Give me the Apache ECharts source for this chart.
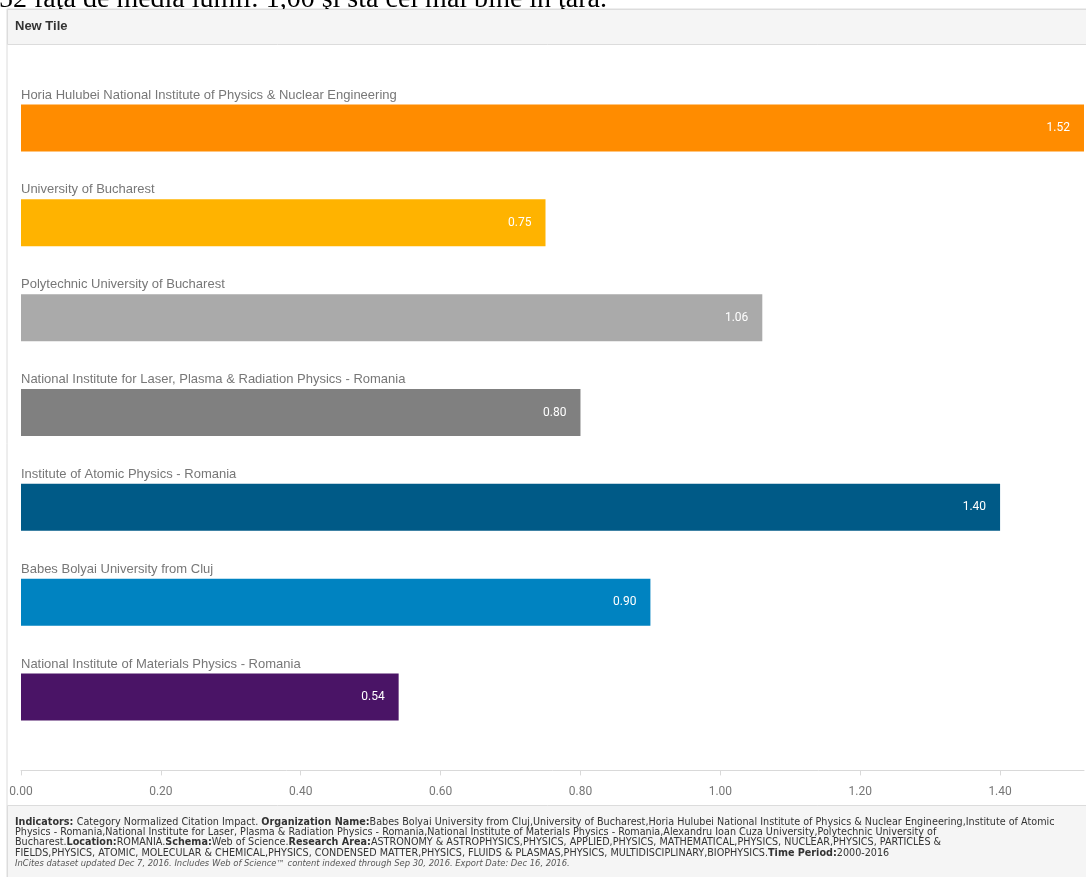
<!DOCTYPE html>
<html><head><meta charset="utf-8">
<script src="https://cdn.jsdelivr.net/npm/echarts@6/dist/echarts.min.js"></script>
<style>html,body{margin:0;padding:0;background:#fff;}#c{width:1086px;height:877px;}</style>
</head><body><div id="c"></div>
<script>
const categories = [
  "Horia Hulubei National Institute of Physics & Nuclear Engineering",
  "University of Bucharest",
  "Polytechnic University of Bucharest",
  "National Institute for Laser, Plasma & Radiation Physics - Romania",
  "Institute of Atomic Physics - Romania",
  "Babes Bolyai University from Cluj",
  "National Institute of Materials Physics - Romania"
];
const values = [1.52, 0.75, 1.06, 0.80, 1.40, 0.90, 0.54];
const barColors = ["#FF8C00", "#FFB300", "#AAAAAA", "#808080", "#005A87", "#0083C1", "#4A1466"];
const axisMin = 0, axisMax = 1.52, axisInterval = 0.2;
const headline = "52 faţă de media lumii: 1,00 şi sta cel mai bine în ţară.";
const tileTitle = "New Tile";
const footerLines = [
  [["b","Indicators: "],["n","Category Normalized Citation Impact. "],["b","Organization Name:"],["n","Babes Bolyai University from Cluj,University of Bucharest,Horia Hulubei National Institute of Physics & Nuclear Engineering,Institute of Atomic"]],
  [["n","Physics - Romania,National Institute for Laser, Plasma & Radiation Physics - Romania,National Institute of Materials Physics - Romania,Alexandru Ioan Cuza University,Polytechnic University of"]],
  [["n","Bucharest."],["b","Location:"],["n","ROMANIA."],["b","Schema:"],["n","Web of Science."],["b","Research Area:"],["n","ASTRONOMY & ASTROPHYSICS,PHYSICS, APPLIED,PHYSICS, MATHEMATICAL,PHYSICS, NUCLEAR,PHYSICS, PARTICLES &"]],
  [["n","FIELDS,PHYSICS, ATOMIC, MOLECULAR & CHEMICAL,PHYSICS, CONDENSED MATTER,PHYSICS, FLUIDS & PLASMAS,PHYSICS, MULTIDISCIPLINARY,BIOPHYSICS."],["b","Time Period:"],["n","2000-2016"]],
  [["i","InCites dataset updated Dec 7, 2016. Includes Web of Science™ content indexed through Sep 30, 2016. Export Date: Dec 16, 2016."]]
];

const esc = s => s.replace(/[{}|]/g, '');
const footerText = footerLines.map(l => l.map(([k, t]) => '{' + k + '|' + esc(t) + '}').join('')).join('\n');

const chart = echarts.init(document.getElementById('c'), null, {renderer: 'canvas'});
const sansFont = '"Liberation Sans", Arial, sans-serif';
const footFont = '"DejaVu Sans", sans-serif';
chart.setOption({
  animation: false,
  backgroundColor: '#fff',
  graphic: [
    {type: 'rect', shape: {x: 7, y: 9, width: 1090, height: 880}, style: {fill: '#fff', stroke: '#dcdcdc', lineWidth: 1}, z: -10},
    {type: 'text', left: -1, top: -14, z: 0, style: {text: headline, font: '28px "Liberation Serif", "DejaVu Serif", serif', fill: '#000'}},
    {type: 'rect', shape: {x: 7.5, y: 9.5, width: 1090, height: 35}, style: {fill: '#f5f5f5', stroke: '#dcdcdc', lineWidth: 1}, z: 1},
    {type: 'text', left: 15, top: 20, z: 2, style: {text: tileTitle, font: 'bold 13px ' + sansFont, fill: '#333'}},
    {type: 'rect', shape: {x: 7.5, y: 805.5, width: 1090, height: 80}, style: {fill: '#f5f5f5', stroke: '#dcdcdc', lineWidth: 1}, z: -9},
    {type: 'text', left: 15, top: 817, style: {
      text: footerText,
      rich: {
        n: {fontSize: 9.65, fontFamily: footFont, fill: '#333', lineHeight: 10.4},
        b: {fontSize: 9.65, fontFamily: footFont, fontWeight: 'bold', fill: '#333', lineHeight: 10.4},
        i: {fontSize: 8.4, fontFamily: footFont, fontStyle: 'italic', fill: '#555', lineHeight: 10.4}
      }
    }}
  ],
  grid: {left: 21, right: 2, top: 80.6, bottom: 132.6, containLabel: false},
  xAxis: {
    type: 'value', min: axisMin, max: axisMax, interval: axisInterval, offset: 26,
    axisLine: {show: true, lineStyle: {color: '#d9d9d9'}},
    axisTick: {show: true, length: 5, lineStyle: {color: '#d9d9d9'}},
    splitLine: {show: false},
    axisLabel: {color: '#777', fontSize: 12, fontFamily: 'Roboto, sans-serif', margin: 16, showMaxLabel: false,
      formatter: v => v.toFixed(2)}
  },
  yAxis: {
    type: 'category', data: categories, inverse: true,
    axisLine: {show: false}, axisTick: {show: false}, axisLabel: {show: false}
  },
  series: [
    {
      type: 'bar', barWidth: 47, silent: true,
      data: values.map((v, i) => ({value: v, itemStyle: {color: barColors[i]}})),
      label: {show: true, position: 'insideRight', distance: 14, color: '#fff', fontSize: 12,
        fontFamily: 'Roboto, sans-serif', formatter: p => p.value.toFixed(2)}
    },
    {
      type: 'bar', barWidth: 47, barGap: '-100%', silent: true,
      data: values.map(v => ({value: v, itemStyle: {color: 'rgba(0,0,0,0)'}})),
      label: {show: true, position: [0, -3], align: 'left', verticalAlign: 'bottom', color: '#777', fontSize: 13,
        fontFamily: sansFont, formatter: p => categories[p.dataIndex]}
    }
  ]
});
</script></body></html>
